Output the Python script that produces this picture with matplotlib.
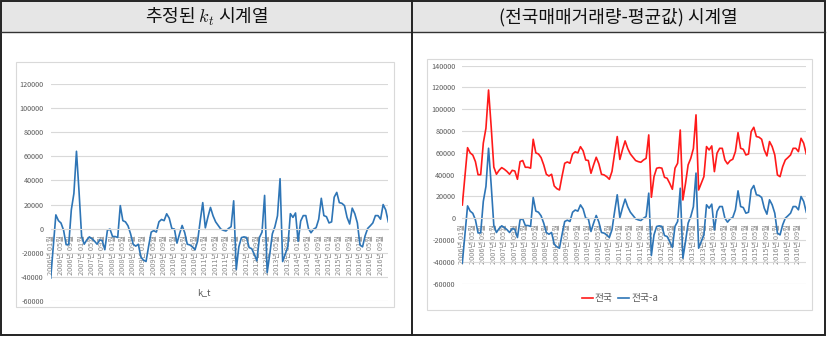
import numpy as np
import matplotlib
matplotlib.use("Agg")
import matplotlib.pyplot as plt
from matplotlib.patches import Rectangle
from matplotlib.lines import Line2D

plt.rcParams['font.family'] = ['Noto Sans CJK KR', 'DejaVu Sans']
plt.rcParams['mathtext.fontset'] = 'cm'

# ========================================================
# Data: monthly national transaction volume, 2006-01 .. 2016-12
# ========================================================
years = list(range(2006, 2017))
months = list(range(1, 13))

national = [
    12.2, 38.0, 64.8, 60.0, 58.0, 52.0, 40.0, 40.0, 69.0, 82.6, 117.7, 84.0,
    47.0, 40.4, 44.0, 46.5, 45.0, 43.0, 40.4, 44.0, 43.4, 35.8, 52.0, 53.0,
    46.8, 46.8, 46.0, 72.5, 60.0, 59.0, 55.7, 49.0, 40.4, 38.8, 40.4, 29.7,
    27.2, 26.0, 38.8, 50.5, 51.7, 50.5, 59.0, 61.0, 60.0, 65.7, 62.0, 53.5,
    53.0, 41.3, 49.0, 56.0, 50.0, 40.4, 39.8, 38.2, 35.8, 43.0, 59.6, 75.0,
    54.0, 63.0, 71.0, 64.0, 59.0, 56.0, 53.0, 52.0, 51.4, 53.5, 55.0, 76.5,
    19.3, 38.2, 45.9, 46.5, 46.0, 37.6, 36.7, 32.0, 26.6, 46.0, 50.5, 81.0,
    16.8, 32.0, 49.0, 55.0, 64.0, 94.9, 26.0, 32.0, 38.2, 65.8, 62.7, 66.4,
    42.8, 59.7, 64.2, 64.2, 53.5, 49.9, 52.9, 54.2, 61.2, 78.6, 64.2, 63.3,
    58.1, 59.0, 79.5, 83.5, 75.0, 74.4, 72.5, 62.7, 57.2, 70.4, 65.8, 58.1,
    39.8, 38.2, 47.4, 53.5, 55.7, 58.1, 64.2, 64.2, 61.2, 73.4, 68.9, 59.0,
]
national = np.array(national) * 1000
national_dev = national - national.mean()   # 전국-a
k_t = national_dev                           # estimated k_t

labels = [f"{y}년 {m:02d}월" for y in years for m in months]
x = np.arange(len(labels))
tick_pos = x[::4]
tick_lab = labels[::4]

# ========================================================
# Layout helpers (pixel coords)
# ========================================================
W, H = 827, 338
fig = plt.figure(figsize=(W / 100, H / 100), dpi=100)


def rect(x0, y0, x1, y1):
    return [x0 / W, 1 - y1 / H, (x1 - x0) / W, (y1 - y0) / H]


def fx(px):
    return px / W


def fy(py):
    return 1 - py / H


# table frame
fig.patches.append(Rectangle((fx(1), fy(32)), fx(411), 31 / H, transform=fig.transFigure,
                             facecolor="#e6e6e6", edgecolor="none"))
fig.patches.append(Rectangle((fx(413), fy(32)), fx(411), 31 / H, transform=fig.transFigure,
                             facecolor="#e6e6e6", edgecolor="none"))
fig.patches.append(Rectangle((fx(1), fy(335)), fx(824), 334 / H, transform=fig.transFigure,
                             facecolor="none", edgecolor="#222222", lw=1.4))
fig.lines.append(Line2D([fx(1), fx(825)], [fy(32), fy(32)], transform=fig.transFigure,
                        color="#333333", lw=1.0))
fig.lines.append(Line2D([fx(412), fx(412)], [fy(1), fy(335)], transform=fig.transFigure,
                        color="#222222", lw=1.4))

fig.text(fx(207), fy(17), "추정된 $k_t$ 시계열", ha="center", va="center", fontsize=13, color="#111111")
fig.text(fx(618), fy(17), "(전국매매거래량-평균값) 시계열", ha="center", va="center", fontsize=13,
         color="#111111")

# chart area boxes
fig.patches.append(Rectangle((fx(16), fy(307)), fx(378), 245 / H, transform=fig.transFigure,
                             facecolor="none", edgecolor="#d9d9d9", lw=0.8))
fig.patches.append(Rectangle((fx(427), fy(310)), fx(385), 251 / H, transform=fig.transFigure,
                             facecolor="none", edgecolor="#d9d9d9", lw=0.8))

blue = "#2E75B6"
red = "#FF1A1A"
grid_c = "#d9d9d9"
txt_c = "#595959"


def style(ax, ymin, ymax):
    ax.set_xlim(0, len(x) - 1)
    ax.set_ylim(ymin, ymax)
    ax.set_yticks(np.arange(ymin, ymax + 1, 20000))
    ax.set_yticklabels([f"{v:d}" for v in np.arange(ymin, ymax + 1, 20000)])
    ax.grid(axis="y", color=grid_c, lw=0.8)
    ax.set_axisbelow(True)
    for s in ["top", "right", "left"]:
        ax.spines[s].set_visible(False)
    ax.spines["bottom"].set_position(("data", 0))
    ax.spines["bottom"].set_color(grid_c)
    ax.spines["bottom"].set_linewidth(0.8)
    ax.set_xticks(tick_pos)
    ax.set_xticklabels(tick_lab, rotation=90)
    ax.tick_params(axis="x", length=0, pad=4.5, labelsize=5.3, labelcolor="#8a8a8a")
    ax.tick_params(axis="y", length=0, pad=5, labelsize=5.2, labelcolor=txt_c)
    ax.patch.set_alpha(0)


# ========================================================
# Left panel: k_t
# ========================================================
ax1 = fig.add_axes(rect(50.7, 84.3, 388.3, 300.7))
ax1.plot(x, k_t, color=blue, lw=1.2)
style(ax1, -60000, 120000)
fig.text(fx(204), fy(293), "k_t", ha="center", va="center", fontsize=6.5, color=txt_c)

# ========================================================
# Right panel: 전국 and 전국-a
# ========================================================
ax2 = fig.add_axes(rect(462.3, 65.7, 806.3, 283.7))
ax2.plot(x, national, color=red, lw=1.2, label="전국")
ax2.plot(x, national_dev, color=blue, lw=1.2, label="전국-a")
style(ax2, -60000, 140000)
ax2.legend(loc="center", bbox_to_anchor=(fx(620), fy(298)), bbox_transform=fig.transFigure,
           ncol=2, fontsize=7, handlelength=1.1, handletextpad=0.2, columnspacing=0.6,
           frameon=False, labelcolor=txt_c)

fig.savefig("out.png", dpi=100)
